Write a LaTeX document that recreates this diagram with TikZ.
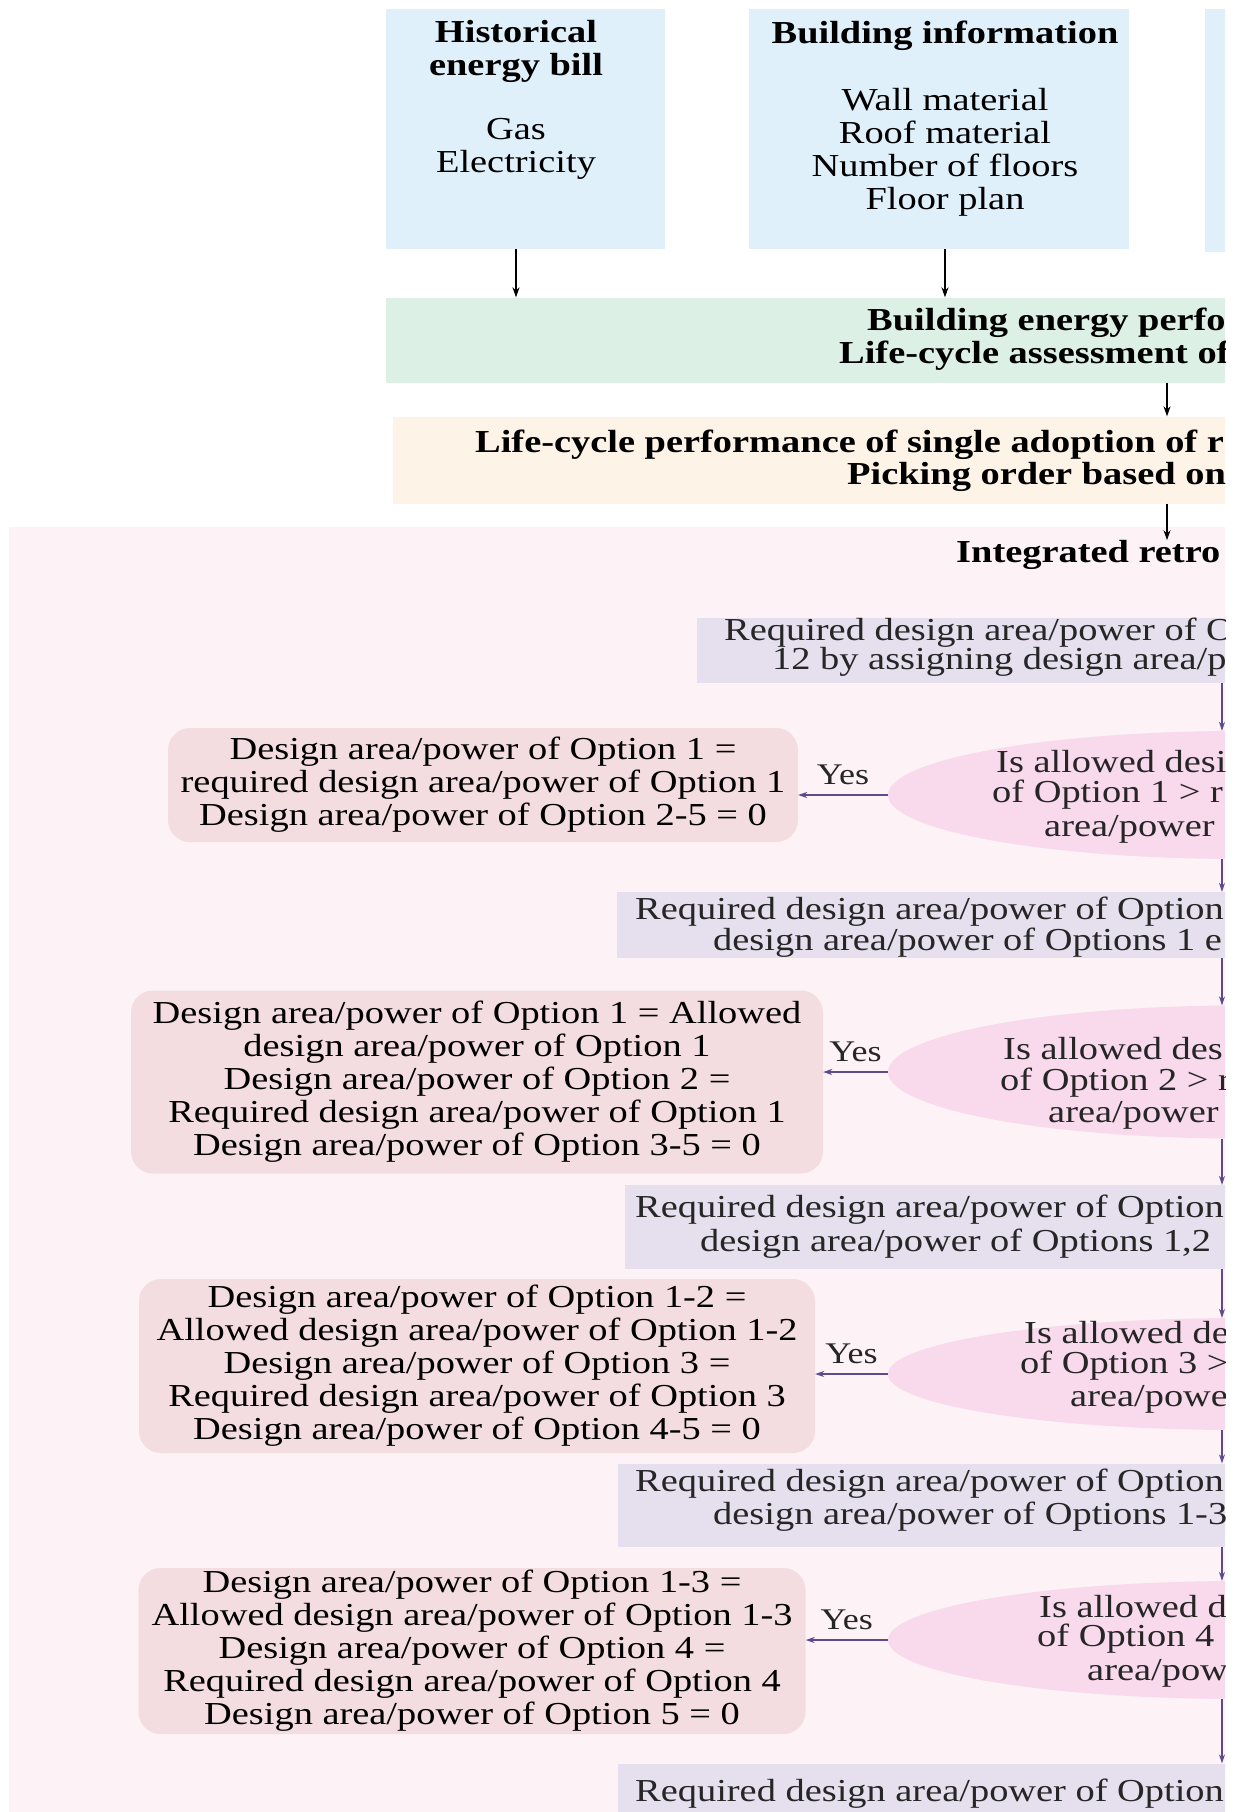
\documentclass[tikz,border=0pt]{standalone}
\usepackage{fontspec}
\setmainfont{Liberation Serif}[FakeStretch=1.2]
\usetikzlibrary{shapes.geometric,arrows.meta}
\definecolor{infoblue}{HTML}{DFF0FA}
\definecolor{bandgreen}{HTML}{DDF0E6}
\definecolor{bandbeige}{HTML}{FDF3E6}
\definecolor{stagepink}{HTML}{FDF2F5}
\definecolor{reqpurple}{HTML}{E6DFEE}
\definecolor{decpink}{HTML}{F8DAEC}
\definecolor{resrose}{HTML}{F4DDE1}
\definecolor{flowpurple}{HTML}{5E4B8F}
\begin{document}
\begin{tikzpicture}[x=1pt,y=-1pt,
        txt/.style={font=\fontsize{32}{33}\selectfont, inner sep=0pt, align=center},
        boldtxt/.style={txt, font=\fontsize{32}{33}\selectfont\bfseries},
        cutline/.style={txt, anchor=west, text=black!85},
        cutbold/.style={boldtxt, anchor=west},
        infobox/.style={fill=infoblue, inner sep=0pt},
        reqbox/.style={fill=reqpurple, inner sep=0pt},
        decbox/.style={ellipse, fill=decpink, inner sep=0pt, minimum width=704},
        resbox/.style={txt, fill=resrose, rounded corners=22pt},
        yeslabel/.style={txt, font=\fontsize{30}{30}\selectfont, above=10pt, text=black!85},
        toparrow/.style={-{Stealth[length=10pt,width=7pt]}, line width=1.1pt, black},
        flowarrow/.style={-{Stealth[length=9pt,width=6pt]}, line width=1.1pt, flowpurple}]
        \useasboundingbox (0,0) rectangle (1237,1812);
        \clip (0,0) rectangle (1225,1812);

        % Coordinates
        \coordinate (A) at (525,129);
        \coordinate (B) at (939,129);
        \coordinate (C) at (1305,130);
        \coordinate (D) at (893,340);
        \coordinate (E) at (896,460);
        \coordinate (P) at (1167,0);
        \coordinate (Q) at (1222,0);
        \coordinate (R1) at (1048,650);
        \coordinate (R2) at (1008,925);
        \coordinate (R3) at (1012,1227);
        \coordinate (R4) at (1009,1505);
        \coordinate (R5) at (1009,1832);
        \coordinate (E1) at (1240,795);
        \coordinate (E2) at (1240,1072);
        \coordinate (E3) at (1240,1374);
        \coordinate (E4) at (1240,1640);
        \coordinate (S1) at (483,785);
        \coordinate (S2) at (477,1082);
        \coordinate (S3) at (477,1366);
        \coordinate (S4) at (472,1651);

        % Drawing
        \fill[stagepink] (9,527) rectangle (1300,1900);
        \node[infobox, minimum width=279, minimum height=240] (hist) at (A) {};
        \node[infobox, minimum width=380, minimum height=240] (bldg) at (B) {};
        \node[infobox, minimum width=200, minimum height=243] (third) at (C) {};
        \node[fill=bandgreen, minimum width=1014, minimum height=85] (band) at (D) {};
        \node[fill=bandbeige, minimum width=1007, minimum height=87] (order) at (E) {};
        \node[boldtxt] (histtitle) at (516,51) {Historical\\energy bill};
        \node[txt] (histitems) at (516,149) {Gas\\Electricity};
        \node[boldtxt] (bldgtitle) at (945,36) {Building information};
        \node[txt] (bldgitems) at (945,152) {Wall material\\Roof material\\Number of floors\\Floor plan};
        \node[cutbold] (bandone) at (867,323) {Building energy perfo};
        \node[cutbold] (bandtwo) at (839,356) {Life-cycle assessment of};
        \node[cutbold] (orderone) at (475,445) {Life-cycle performance of single adoption of r};
        \node[cutbold] (ordertwo) at (847,477) {Picking order based on};
        \node[cutbold] (stage) at (956,555) {Integrated retro};

        \node[reqbox, minimum width=703, minimum height=65] (req1) at (R1) {};
        \node[cutline] at (724,633) {Required design area/power of O};
        \node[cutline] at (772,662) {12 by assigning design area/p};
        \node[decbox, minimum height=128] (dec1) at (E1) {};
        \node[cutline] at (996,762) {Is allowed desi};
        \node[cutline] at (992,795) {of Option 1 > r};
        \node[cutline] at (1044,829) {area/power};
        \node[resbox, minimum width=630, minimum height=114] (res1) at (S1)
            {Design area/power of Option 1 =\\required design area/power of Option 1\\Design area/power of Option 2-5 = 0};

        \node[reqbox, minimum width=783, minimum height=66] (req2) at (R2) {};
        \node[cutline, align=left, font=\fontsize{32}{28}\selectfont] at (635,927)
            {Required design area/power of Option\\\hspace*{78pt}design area/power of Options 1 e};
        \node[decbox, minimum height=133] (dec2) at (E2) {};
        \node[cutline] at (1003,1049) {Is allowed des};
        \node[cutline] at (1000,1083) {of Option 2 > r};
        \node[cutline] at (1048,1115) {area/power};
        \node[resbox, minimum width=692, minimum height=183] (res2) at (S2)
            {Design area/power of Option 1 = Allowed\\design area/power of Option 1\\Design area/power of Option 2 =\\Required design area/power of Option 1\\Design area/power of Option 3-5 = 0};

        \node[reqbox, minimum width=775, minimum height=84] (req3) at (R3) {};
        \node[cutline] at (635,1210) {Required design area/power of Option};
        \node[cutline] at (700,1244) {design area/power of Options 1,2};
        \node[decbox, minimum height=112] (dec3) at (E3) {};
        \node[cutline] at (1024,1333) {Is allowed de};
        \node[cutline] at (1020,1366) {of Option 3 >};
        \node[cutline] at (1070,1399) {area/powe};
        \node[resbox, minimum width=676, minimum height=174] (res3) at (S3)
            {Design area/power of Option 1-2 =\\Allowed design area/power of Option 1-2\\Design area/power of Option 3 =\\Required design area/power of Option 3\\Design area/power of Option 4-5 = 0};

        \node[reqbox, minimum width=782, minimum height=83] (req4) at (R4) {};
        \node[cutline] at (635,1484) {Required design area/power of Option};
        \node[cutline] at (713,1517) {design area/power of Options 1-3};
        \node[decbox, minimum height=118] (dec4) at (E4) {};
        \node[cutline] at (1039,1607) {Is allowed d};
        \node[cutline] at (1037,1639) {of Option 4};
        \node[cutline] at (1087,1673) {area/pow};
        \node[resbox, minimum width=667, minimum height=166] (res4) at (S4)
            {Design area/power of Option 1-3 =\\Allowed design area/power of Option 1-3\\Design area/power of Option 4 =\\Required design area/power of Option 4\\Design area/power of Option 5 = 0};

        \node[reqbox, minimum width=782, minimum height=137] (req5) at (R5) {};
        \node[cutline] at (635,1794) {Required design area/power of Option};

        \draw[toparrow] (histtitle.south |- hist.south) -- (histtitle.south |- band.north);
        \draw[toparrow] (bldgtitle.south |- bldg.south) -- (bldgtitle.south |- band.north);
        \draw[toparrow] (band.south -| P) -- (order.north -| P);
        \draw[toparrow] (order.south -| P) -- (stage.north -| P);
        \draw[flowarrow] (req1.south -| Q) -- (dec1.north -| Q);
        \draw[flowarrow] (dec1.south -| Q) -- (req2.north -| Q);
        \draw[flowarrow] (req2.south -| Q) -- (dec2.north -| Q);
        \draw[flowarrow] (dec2.south -| Q) -- (req3.north -| Q);
        \draw[flowarrow] (req3.south -| Q) -- (dec3.north -| Q);
        \draw[flowarrow] (dec3.south -| Q) -- (req4.north -| Q);
        \draw[flowarrow] (req4.south -| Q) -- (dec4.north -| Q);
        \draw[flowarrow] (dec4.south -| Q) -- (req5.north -| Q);
        \draw[flowarrow] (dec1.west) -- node[yeslabel] (yes1) {Yes} (dec1.west -| res1.east);
        \draw[flowarrow] (dec2.west) -- node[yeslabel] (yes2) {Yes} (dec2.west -| res2.east);
        \draw[flowarrow] (dec3.west) -- node[yeslabel] (yes3) {Yes} (dec3.west -| res3.east);
        \draw[flowarrow] (dec4.west) -- node[yeslabel] (yes4) {Yes} (dec4.west -| res4.east);
\end{tikzpicture}
\end{document}
